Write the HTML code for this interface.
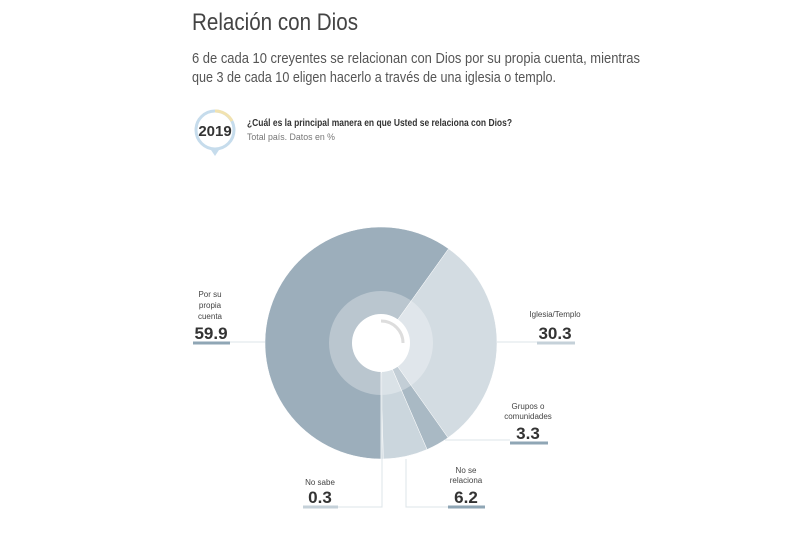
<!DOCTYPE html>
<html><head><meta charset="utf-8"><style>
html,body{margin:0;padding:0;background:#fff;}
svg{display:block;font-family:"Liberation Sans",sans-serif;}
.lab{font-size:8px;fill:#444;text-anchor:middle;}
.val{font-size:17px;font-weight:bold;fill:#333;text-anchor:middle;font-family:"Liberation Sans Narrow","Liberation Sans",sans-serif;}
</style></head><body>
<svg id="chart" width="800" height="533" viewBox="0 0 800 533">
<text x="192" y="30" font-size="24" fill="#444" textLength="166" lengthAdjust="spacingAndGlyphs">Relación con Dios</text>
<text x="192" y="63" font-size="15" fill="#555" textLength="448" lengthAdjust="spacingAndGlyphs">6 de cada 10 creyentes se relacionan con Dios por su propia cuenta, mientras</text>
<text x="192" y="82" font-size="15" fill="#555" textLength="364" lengthAdjust="spacingAndGlyphs">que 3 de cada 10 eligen hacerlo a través de una iglesia o templo.</text>
<g>
<circle cx="215" cy="130" r="19" fill="#fff" stroke="#c6dcec" stroke-width="3"/>
<path d="M215 111 A19 19 0 0 1 232 121" fill="none" stroke="#f1e2b0" stroke-width="3"/>
<path d="M211 150 L215 156 L219 150 Z" fill="#c6dcec"/>
<text x="215" y="136" font-size="15" font-weight="bold" fill="#333" text-anchor="middle" font-family="Liberation Sans Narrow,Liberation Sans,sans-serif">2019</text>
</g>
<text x="247" y="126" font-size="10" font-weight="bold" fill="#333" textLength="265" lengthAdjust="spacingAndGlyphs">¿Cuál es la principal manera en que Usted se relaciona con Dios?</text>
<text x="247" y="140" font-size="9" fill="#777" textLength="88" lengthAdjust="spacingAndGlyphs">Total país. Datos en %</text>
<g id="slices"></g>
<circle cx="381" cy="343" r="52" fill="#fff" fill-opacity="0.3"/>
<circle cx="381" cy="343" r="29" fill="#fff"/>
<path d="M381 321 A22 22 0 0 1 403 343" fill="none" stroke="#ddd" stroke-width="3"/>
<g id="labels" stroke-width="1"></g>
<g fill="none" stroke="#dde4e8" stroke-width="1">
<path d="M230 342 H265"/><path d="M497 342 H537"/><path d="M445 440 H510"/>
<path d="M406 459 V507 H448"/><path d="M382 373 V507 H338"/>
</g>
<g stroke="#8fa6b5" stroke-width="3">
<path d="M193 343 H230"/><path d="M537 343 H575" stroke="#c5d1d9"/><path d="M510 443 H548"/><path d="M448 507 H485"/><path d="M303 507 H338" stroke="#c5d1d9"/>
</g>
<g>
<text class="lab" x="210" y="297">Por su</text><text class="lab" x="210" y="308">propia</text><text class="lab" x="210" y="319">cuenta</text>
<text class="val" x="211" y="339" id="v0">59.9</text>
<text class="lab" x="555" y="317">Iglesia/Templo</text>
<text class="val" x="555" y="339" id="v1">30.3</text>
<text class="lab" x="528" y="409">Grupos o</text><text class="lab" x="528" y="419">comunidades</text>
<text class="val" x="528" y="439" id="v2">3.3</text>
<text class="lab" x="466" y="473">No se</text><text class="lab" x="466" y="483">relaciona</text>
<text class="val" x="466" y="503" id="v3">6.2</text>
<text class="lab" x="320" y="485">No sabe</text>
<text class="val" x="320" y="503" id="v4">0.3</text>
</g>
</svg>
<script>
const categories = ["Por su propia cuenta","Iglesia/Templo","Grupos o comunidades","No se relaciona","No sabe"];
const values = [59.9, 30.3, 3.3, 6.2, 0.3];
const valueLabels = ["59.9","30.3","3.3","6.2","0.3"];
const colors = ["#9caebb","#d3dce2","#a9b9c4","#cbd6dd","#cbd6dd"];
const cx=381, cy=343, R=116, startDeg=180;
const total = values.reduce((a,b)=>a+b,0);
function angleScale(v){return v/total*360;}
function pt(deg,r){const a=(deg-90)*Math.PI/180;return [cx+r*Math.cos(a),cy+r*Math.sin(a)];}
const g=document.getElementById('slices');
let a0=startDeg;
values.forEach((v,i)=>{
  const a1=a0+angleScale(v);
  const p0=pt(a0,R),p1=pt(a1,R);
  const large=(a1-a0)>180?1:0;
  const p=document.createElementNS('http://www.w3.org/2000/svg','path');
  p.setAttribute('d',`M${cx} ${cy} L${p0[0]} ${p0[1]} A${R} ${R} 0 ${large} 1 ${p1[0]} ${p1[1]} Z`);
  p.setAttribute('fill',colors[i]);
  p.setAttribute('stroke','#fff');p.setAttribute('stroke-width','0.5');
  
  
  g.appendChild(p);
  a0=a1;
});
valueLabels.forEach((t,i)=>{document.getElementById('v'+i).textContent=t;});
</script>
</body></html>
